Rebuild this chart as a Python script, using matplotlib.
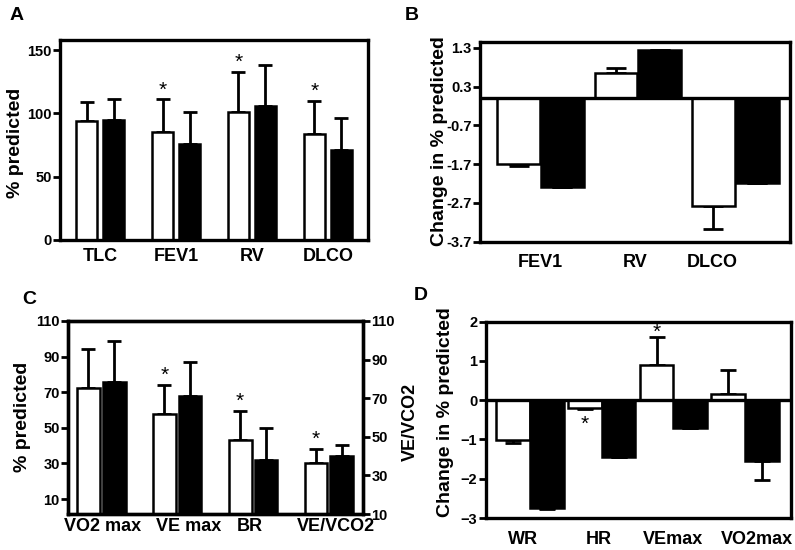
import matplotlib
matplotlib.use("Agg")
import matplotlib.pyplot as plt
import numpy as np

plt.rcParams['font.family'] = ['Liberation Sans', 'DejaVu Sans']
plt.rcParams['font.weight'] = 'bold'

# ---- data ----
A_cats = ['TLC', 'FEV1', 'RV', 'DLCO']
A_white = [94, 85, 101, 84]
A_white_err = [15, 26, 32, 26]
A_black = [95, 76, 106, 71]
A_black_err = [16, 25, 32, 25]
A_stars = [False, True, True, True]
A_yticks = [0, 50, 100, 150]

B_cats = ['FEV1', 'RV', 'DLCO']
B_white = [-1.7, 0.64, -2.79]
B_white_err = [0.05, 0.13, 0.58]
B_black = [-2.3, 1.24, -2.19]
B_black_err = [0.0, 0.0, 0.0]
B_yticks = [-3.7, -2.7, -1.7, -0.7, 0.3, 1.3]

C_cats = ['VO2 max', 'VE max', 'BR', 'VE/VCO2']
C_white = [72.5, 58, 43, 30]
C_white_err = [22, 16, 16.5, 8]
C_black = [75.5, 68, 32, 34]
C_black_err = [23, 19, 18, 6.5]
C_stars = [False, True, True, True]
C_yticks = [10, 30, 50, 70, 90, 110]

D_cats = ['WR', 'HR', 'VEmax', 'VO2max']
D_white = [-1.02, -0.19, 0.9, 0.16]
D_white_err = [0.08, 0.03, 0.7, 0.6]
D_black = [-2.75, -1.44, -0.7, -1.56]
D_black_err = [0.02, 0.0, 0.0, 0.48]
D_stars = [False, True, True, False]
D_yticks = [-3, -2, -1, 0, 1, 2]

W, H = 795, 550
fig = plt.figure(figsize=(W / 100, H / 100), dpi=100)


def px_axes(x0, y0, x1, y1):
    return fig.add_axes([x0 / W, 1 - y1 / H, (x1 - x0) / W, (y1 - y0) / H])


def style(ax, lw=2.4):
    for s in ax.spines.values():
        s.set_linewidth(lw)
    ax.tick_params(axis='y', direction='out', length=5, width=2, labelsize=10.5, pad=1)
    ax.tick_params(axis='x', length=0, labelsize=13, pad=6)
    for lab in ax.get_yticklabels() + ax.get_xticklabels():
        lab.set_fontweight('bold')


def bars(ax, vals_w, err_w, vals_b, err_b, width, off, capsize):
    x = np.arange(len(vals_w))
    for vals, errs, col, sign in ((vals_w, err_w, 'white', -1), (vals_b, err_b, 'black', 1)):
        vals = np.array(vals, float)
        errs = np.array(errs, float)
        lower = np.where(vals < 0, errs, 0)
        upper = np.where(vals >= 0, errs, 0)
        ax.bar(x + sign * off, vals, width, color=col, edgecolor='black', linewidth=1.8, zorder=2)
        ax.errorbar(x + sign * off, vals, yerr=[lower, upper], fmt='none', ecolor='black',
                    elinewidth=2, capsize=capsize, capthick=2, zorder=1)
    return x


# ---- Panel A ----
axA = px_axes(60, 40, 368, 240)
x = bars(axA, A_white, A_white_err, A_black, A_black_err, 0.27, 0.178, 5)
axA.set_xlim(-0.53, 3.53)
axA.set_ylim(0, 158)
axA.set_yticks(A_yticks)
axA.set_xticks(x)
axA.set_xticklabels(A_cats)
for i, s in enumerate(A_stars):
    if s:
        axA.annotate('*', (x[i] - 0.178, A_white[i] + A_white_err[i]), xytext=(0, 0),
                     textcoords='offset points', ha='center', va='bottom', fontsize=15,
                     fontweight='normal')
style(axA)

# ---- Panel B ----
axB = px_axes(480, 42, 790, 241.7)
x = bars(axB, B_white, B_white_err, B_black, B_black_err, 0.44, 0.225, 7)
axB.axhline(0, color='black', lw=2.4, zorder=3)
axB.set_xlim(-0.62, 2.56)
axB.set_ylim(-3.7, 1.45)
axB.set_yticks(B_yticks)
axB.set_yticklabels([f'{v:.1f}' for v in B_yticks])
axB.set_xticks([0, 0.97, 1.76])
axB.set_xticklabels(B_cats)
axB.tick_params(axis='x', pad=9)
style(axB)
axB.tick_params(axis='x', pad=9)

# ---- Panel C ----
axC = px_axes(68, 321, 363, 514)
x = bars(axC, C_white, C_white_err, C_black, C_black_err, 0.3, 0.17, 5)
axC.set_xlim(-0.44, 3.45)
axC.set_ylim(1.6, 110)
axC.set_yticks(C_yticks)
axC.set_xticks([0.02, 1.15, 1.96, 3.09])
axC.set_xticklabels(C_cats)
axC.tick_params(axis='x', pad=3)
for i, s in enumerate(C_stars):
    if s:
        axC.annotate('*', (x[i] - 0.17, C_white[i] + C_white_err[i]), xytext=(0, 0),
                     textcoords='offset points', ha='center', va='bottom', fontsize=15,
                     fontweight='normal')
style(axC)
axC.tick_params(axis='x', pad=3)
axC2 = axC.twinx()
axC2.set_ylim(10, 110)
axC2.set_yticks(C_yticks)
style(axC2)

# ---- Panel D ----
axD = px_axes(485.7, 321.7, 791, 518)
x = bars(axD, D_white, D_white_err, D_black, D_black_err, 0.47, 0.235, 6)
axD.axhline(0, color='black', lw=2.4, zorder=3)
axD.set_xlim(-0.62, 3.64)
axD.set_ylim(-3, 2)
axD.set_yticks(D_yticks)
axD.set_xticks([-0.1, 0.96, 1.99, 3.16])
axD.set_xticklabels(D_cats)
for i, s in enumerate(D_stars):
    if s:
        v = D_white[i]
        e = D_white_err[i]
        if v >= 0:
            axD.annotate('*', (x[i] - 0.235, v + e), xytext=(0, -3), textcoords='offset points',
                         ha='center', va='bottom', fontsize=15, fontweight='normal')
        else:
            axD.annotate('*', (x[i] - 0.235, v - e), xytext=(0, -18), textcoords='offset points',
                         ha='center', va='bottom', fontsize=15, fontweight='normal')
style(axD)
axD.tick_params(axis='x', pad=9)

# ---- labels ----
def ftext(xp, yp, s, size, rot=0):
    fig.text(xp / W, 1 - yp / H, s, ha='center', va='center', rotation=rot,
             fontsize=size, fontweight='bold')

ftext(16, 143, '% predicted', 14, 90)
ftext(440, 141, 'Change in % predicted', 14, 90)
ftext(23, 417, '% predicted', 14, 90)
ftext(410, 422, 'VE/VCO2', 13, 90)
ftext(445, 412, 'Change in % predicted', 14, 90)

ftext(17, 15, 'A', 14)
ftext(412, 15, 'B', 14)
ftext(29, 300, 'C', 14)
ftext(421, 295, 'D', 14)

fig.savefig('out.png', dpi=100)
